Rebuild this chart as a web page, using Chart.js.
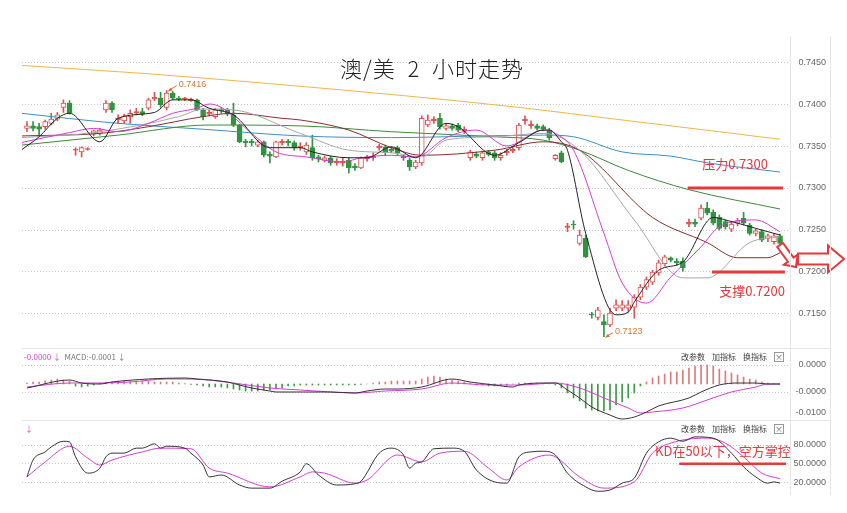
<!DOCTYPE html>
<html>
<head>
<meta charset="utf-8">
<script src="https://cdn.jsdelivr.net/npm/chart.js@4.4.0/dist/chart.umd.min.js"></script>
<style>
  body { margin: 0; background: #fff; width: 847px; height: 513px; overflow: hidden; position: relative; font-family: "Noto Sans CJK SC", "Noto Sans", sans-serif; }
  canvas { position: absolute; left: 0; }
  .rule { position: absolute; background: #e6e6e6; }
  .title { position: absolute; left: 290px; width: 284px; top: 53px; text-align: center; font-size: 22px; line-height: 28px; color: #222; font-weight: 300; letter-spacing: 1px; white-space: pre; }
  .hdr { position: absolute; font-size: 8px; line-height: 10px; white-space: nowrap; }
  .tools { position: absolute; left: 681px; font-size: 8px; line-height: 10px; color: #444; white-space: nowrap; }
  .tools span { display: inline-block; margin-right: 7px; }
  .xbox { display: inline-block; width: 8px; height: 8px; border: 1px solid #999; font-size: 8px; line-height: 8px; text-align: center; color: #666; vertical-align: top; }
</style>
</head>
<body>
<canvas id="mainChart" width="847" height="348" style="top:0"></canvas>
<canvas id="macdChart" width="847" height="72" style="top:348px"></canvas>
<canvas id="kdChart" width="847" height="75" style="top:420px"></canvas>

<div class="rule" style="left:22px;top:348px;width:808px;height:1px"></div>
<div class="rule" style="left:22px;top:420px;width:808px;height:1px"></div>
<div class="rule" style="left:790px;top:36px;width:1px;height:459px"></div>
<div class="rule" style="left:830px;top:36px;width:1px;height:459px"></div>

<div class="title">澳/美  2  小时走势</div>

<div class="hdr" style="left:24px;top:352px"><span style="color:#d23cd2">-0.0000 ↓</span>&nbsp;&nbsp;<span style="color:#777">MACD:-0.0001 ↓</span></div>
<div class="tools" style="top:352px"><span>改参数</span><span>加指标</span><span>换指标</span><span class="xbox">×</span></div>
<div class="hdr" style="left:25px;top:424px;color:#d23cd2">↓</div>
<div class="tools" style="top:424px"><span>改参数</span><span>加指标</span><span>换指标</span><span class="xbox">×</span></div>

<script>
// 2-hour AUD/USD candles, index 0..124
const opens = [0.7371,0.7374,0.7373,0.7373,0.7377,0.7382,0.7396,0.7401,0.7345,0.7343,
  0.7346,0.7364,0.7365,0.7393,0.7401,0.7381,0.7380,0.7385,0.7389,0.7391,
  0.7395,0.7406,0.7407,0.7396,0.7413,0.7407,0.7406,0.7404,0.7405,0.7393,
  0.7388,0.7385,0.7394,0.7393,0.7387,0.7375,0.7356,0.7356,0.7351,0.7355,
  0.7340,0.7337,0.7354,0.7356,0.7354,0.7348,0.7343,0.7348,0.7337,0.7333,
  0.7336,0.7330,0.7330,0.7333,0.7326,0.7324,0.7335,0.7336,0.7348,0.7349,
  0.7346,0.7348,0.7338,0.7333,0.7325,0.7330,0.7375,0.7380,0.7383,0.7371,
  0.7374,0.7375,0.7368,0.7336,0.7340,0.7336,0.7343,0.7342,0.7336,0.7342,
  0.7344,0.7348,0.7380,0.7374,0.7374,0.7373,0.7369,0.7335,0.7342,0.7253,
  0.7257,0.7234,0.7240,0.7150,0.7146,0.7141,0.7137,0.7157,0.7157,0.7157,
  0.7158,0.7170,0.7182,0.7188,0.7199,0.7210,0.7217,0.7213,0.7213,0.7257,
  0.7259,0.7264,0.7276,0.7271,0.7265,0.7260,0.7251,0.7258,0.7264,0.7256,
  0.7246,0.7248,0.7240,0.7236,0.7243];
const closes = [0.7374,0.7371,0.7370,0.7379,0.7382,0.7387,0.7401,0.7389,0.7346,0.7348,
  0.7347,0.7368,0.7369,0.7401,0.7393,0.7383,0.7386,0.7389,0.7391,0.7388,
  0.7405,0.7408,0.7399,0.7413,0.7407,0.7406,0.7407,0.7406,0.7393,0.7385,
  0.7390,0.7393,0.7392,0.7388,0.7375,0.7355,0.7354,0.7354,0.7355,0.7339,
  0.7338,0.7355,0.7356,0.7354,0.7348,0.7350,0.7351,0.7336,0.7335,0.7336,
  0.7330,0.7332,0.7332,0.7324,0.7324,0.7336,0.7337,0.7338,0.7350,0.7342,
  0.7344,0.7342,0.7336,0.7325,0.7331,0.7383,0.7381,0.7382,0.7373,0.7374,
  0.7371,0.7369,0.7370,0.7343,0.7338,0.7342,0.7340,0.7336,0.7339,0.7344,
  0.7346,0.7375,0.7382,0.7376,0.7371,0.7370,0.7360,0.7339,0.7331,0.7255,
  0.7256,0.7244,0.7218,0.7149,0.7155,0.7137,0.7151,0.7161,0.7161,0.7161,
  0.7170,0.7182,0.7191,0.7200,0.7211,0.7218,0.7214,0.7211,0.7205,0.7259,
  0.7257,0.7276,0.7270,0.7258,0.7252,0.7254,0.7257,0.7261,0.7258,0.7246,
  0.7249,0.7238,0.7243,0.7243,0.7234];
const highs = [0.7379,0.7379,0.7377,0.7381,0.7389,0.7390,0.7405,0.7404,0.7348,0.7349,
  0.7348,0.7369,0.7371,0.7404,0.7403,0.7387,0.7388,0.7393,0.7395,0.7395,
  0.7407,0.7414,0.7414,0.7416,0.7415,0.7409,0.7408,0.7407,0.7406,0.7395,
  0.7393,0.7395,0.7396,0.7395,0.7401,0.7376,0.7358,0.7358,0.7357,0.7356,
  0.7343,0.7356,0.7358,0.7358,0.7356,0.7354,0.7354,0.7363,0.7339,0.7338,
  0.7338,0.7335,0.7336,0.7336,0.7329,0.7337,0.7339,0.7342,0.7352,0.7351,
  0.7349,0.7350,0.7340,0.7336,0.7333,0.7386,0.7387,0.7385,0.7389,0.7376,
  0.7376,0.7377,0.7373,0.7345,0.7343,0.7344,0.7345,0.7344,0.7342,0.7346,
  0.7349,0.7377,0.7386,0.7380,0.7376,0.7375,0.7371,0.7340,0.7344,0.7258,
  0.7261,0.7250,0.7244,0.7152,0.7158,0.7149,0.7157,0.7167,0.7166,0.7166,
  0.7173,0.7185,0.7194,0.7202,0.7214,0.7220,0.7218,0.7216,0.7217,0.7263,
  0.7263,0.7280,0.7283,0.7274,0.7268,0.7262,0.7260,0.7264,0.7271,0.7258,
  0.7251,0.7250,0.7245,0.7245,0.7245];
const lows = [0.7367,0.7368,0.7362,0.7370,0.7375,0.7380,0.7390,0.7388,0.7339,0.7337,
  0.7345,0.7362,0.7363,0.7390,0.7390,0.7377,0.7377,0.7377,0.7387,0.7386,
  0.7393,0.7404,0.7396,0.7393,0.7405,0.7404,0.7404,0.7403,0.7392,0.7381,
  0.7386,0.7383,0.7389,0.7386,0.7373,0.7354,0.7349,0.7350,0.7349,0.7337,
  0.7330,0.7336,0.7351,0.7350,0.7345,0.7345,0.7340,0.7333,0.7331,0.7331,
  0.7327,0.7327,0.7326,0.7318,0.7321,0.7323,0.7332,0.7333,0.7345,0.7339,
  0.7342,0.7339,0.7333,0.7321,0.7323,0.7327,0.7373,0.7377,0.7370,0.7369,
  0.7369,0.7367,0.7365,0.7333,0.7336,0.7333,0.7338,0.7333,0.7333,0.7339,
  0.7342,0.7345,0.7376,0.7371,0.7369,0.7368,0.7357,0.7333,0.7330,0.7248,
  0.7251,0.7232,0.7217,0.7145,0.7143,0.7123,0.7135,0.7154,0.7154,0.7153,
  0.7145,0.7167,0.7179,0.7185,0.7196,0.7207,0.7212,0.7208,0.7201,0.7254,
  0.7254,0.7262,0.7268,0.7256,0.7250,0.7251,0.7248,0.7255,0.7256,0.7244,
  0.7243,0.7236,0.7236,0.7233,0.7231];

// moving averages as [candle index, price]
const maBlack = [[-1,0.7345],[2,0.7361],[5,0.7383],[7,0.7389],[12,0.7355],[15,0.7383],[21,0.7390],[24,0.7405],[27,0.7405],[30,0.7395],[34,0.7387],[40,0.7348],[45,0.7348],[47,0.7343],[53,0.7336],[56,0.7336],[60,0.7349],[64,0.7336],[69,0.7377],[71,0.7373],[77,0.7339],[81,0.7354],[85,0.7369],[86,0.7369],[88,0.7355],[89,0.7345],[92,0.7246],[97,0.7149],[99,0.7152],[100,0.7164],[104,0.7202],[108,0.7212],[113,0.7265],[115,0.7262],[120,0.7252],[124,0.7244]];
const maMagenta = [[-1,0.7354],[7,0.7366],[11,0.7371],[15,0.7367],[20,0.7377],[24,0.7389],[28,0.7395],[30,0.7400],[32,0.7396],[37,0.7365],[41,0.7343],[46,0.7337],[52,0.7331],[55,0.7336],[60,0.7339],[64,0.7337],[69,0.7360],[74,0.7369],[79,0.7350],[85,0.7369],[87,0.7365],[90,0.7345],[95,0.7246],[98,0.7187],[102,0.7163],[106,0.7194],[111,0.7230],[114,0.7254],[120,0.7262],[124,0.7248]];
const maGrey = [[-1,0.7360],[11,0.7366],[25,0.7385],[29,0.7394],[34,0.7393],[45,0.7365],[53,0.7345],[60,0.7342],[65,0.7337],[69,0.7357],[77,0.7361],[85,0.7365],[91,0.7345],[100,0.7262],[108,0.7193],[112,0.7193],[119,0.7235],[124,0.7242]];
const maBrown = [[-1,0.7362],[12,0.7365],[20,0.7373],[29,0.7385],[34,0.7389],[42,0.7383],[45,0.7381],[53,0.7369],[60,0.7348],[65,0.7339],[77,0.7345],[85,0.7355],[91,0.7345],[103,0.7265],[112,0.7235],[117,0.7217],[122,0.7217],[124,0.7223]];
const maGreen = [[-1,0.7351],[15,0.7363],[30,0.7375],[45,0.7374],[60,0.7367],[77,0.7361],[85,0.7357],[91,0.7345],[99,0.7321],[109,0.7298],[124,0.7275]];
const maBlue = [[-1,0.7389],[15,0.7377],[29,0.7370],[45,0.7362],[60,0.7360],[75,0.7362],[85,0.7363],[90,0.7361],[98,0.7343],[106,0.7338],[112,0.7330],[124,0.7319]];
const maOrange = [[-1,0.7446],[20,0.7436],[42,0.7423],[62,0.7410],[81,0.7396],[98,0.7381],[114,0.7367],[124,0.7358]];

// drawn resistance / support levels [price, from index, to index]
const levels = [[0.7300, 108.8, 124.5], [0.7200, 112.8, 124.8]];
const levelText = ['压力0.7300', '支撑0.7200'];

const priceTicks = [0.7450, 0.7400, 0.7350, 0.7300, 0.7250, 0.7200, 0.7150];

// MACD panel (plotted in panel units)
const macdHist = [0.1,0.2,0.2,0.3,0.4,0.5,0.4,0.3,-0.2,-0.3,
  -0.2,-0.1,0.1,0.2,0.2,0.3,0.3,0.3,0.3,0.3,
  0.3,0.2,0.2,0.2,0.2,0.1,0.05,-0.05,-0.1,-0.2,
  -0.3,-0.3,-0.3,-0.4,-0.5,-0.6,-0.7,-0.7,-0.7,-0.6,
  -0.6,-0.5,-0.4,-0.2,-0.2,-0.1,-0.1,-0.1,-0.1,-0.1,
  -0.1,-0.1,-0.1,-0.1,-0.1,-0.05,0,0.1,0.2,0.2,
  0.3,0.3,0.3,0.3,0.3,0.5,0.7,0.8,0.7,0.5,
  0.4,0.3,0.2,0.1,-0.1,-0.1,-0.2,-0.2,-0.1,-0.1,
  0,0.1,0.1,0.1,0.1,0.05,0,-0.1,-0.4,-0.9,
  -1.4,-1.7,-2.4,-2.6,-2.7,-2.7,-2.6,-2.1,-1.8,-1.4,
  -0.9,-0.2,0.2,0.6,0.8,1.0,1.2,1.2,1.4,1.6,
  1.8,1.9,1.9,1.8,1.5,1.3,1.1,0.9,0.7,0.5,
  0.4,0.2,0.1,0.05,0];
const macdDif = [[0,-0.4],[7,0.4],[9,0.1],[12,0],[14,0.2],[20,0.5],[26,0.6],[28,0.5],[33,0.2],[35,-0.1],[37,-0.4],[40,-0.7],[41,-0.8],[45,-0.8],[50,-0.8],[54,-0.9],[56,-0.7],[59,-0.5],[61,-0.5],[65,-0.3],[70,0.5],[73,0.2],[77,-0.1],[80,-0.3],[81,-0.1],[85,0.1],[87,0.1],[89,-0.6],[91,-1.4],[93,-2.3],[96,-3.1],[98,-3.5],[100,-3.3],[102,-2.8],[104,-2.2],[109,-1.4],[111,-0.8],[114,-0.1],[117,0.1],[120,0.1],[122,0],[124,0]];
const macdDea = [[0,-0.3],[7,0.1],[12,0.1],[17,0.2],[23,0.5],[27,0.5],[34,0.1],[40,-0.4],[45,-0.6],[50,-0.8],[54,-0.9],[59,-0.7],[65,-0.5],[70,0.1],[76,-0.1],[81,-0.1],[87,0.1],[91,-0.4],[95,-1.4],[99,-2.4],[101,-2.9],[103,-2.8],[108,-2.4],[112,-1.6],[116,-0.8],[120,-0.3],[122,0],[124,0]];
const macdTickPos = [1.9, -0.8, -2.9];
const macdTickText = ['0.0000', '-0.0000', '-0.0100'];

// KD panel
const kdK = [[0,29],[1,56],[3,69],[4,77],[6,86],[7,85],[8,61],[10,35],[12,43],[13,61],[14,67],[16,67],[18,75],[19,75],[21,82],[22,75],[23,78],[26,75],[27,67],[29,48],[30,29],[32,32],[35,16],[37,11],[40,11],[42,22],[45,37],[46,50],[48,32],[51,16],[54,18],[55,22],[58,67],[60,75],[62,64],[63,43],[64,51],[65,53],[67,74],[70,75],[72,70],[74,40],[77,21],[79,19],[81,61],[83,69],[85,70],[87,64],[89,35],[92,13],[94,6],[96,8],[98,19],[100,27],[102,67],[104,85],[106,91],[108,86],[110,93],[113,91],[116,67],[118,45],[120,29],[122,19],[123,21],[124,19]];
const kdD = [[0,29],[3,53],[7,78],[10,59],[12,48],[14,56],[19,69],[22,75],[27,74],[30,43],[33,35],[40,13],[45,29],[47,37],[49,35],[54,19],[56,24],[61,64],[65,53],[68,67],[72,70],[76,43],[79,24],[81,45],[86,64],[91,29],[95,11],[100,21],[103,67],[106,83],[112,91],[115,83],[118,61],[121,35],[124,26]];
const kdTicks = [80, 50, 20];
const kdLevel = [50, 107.4, 125.0];
const kdText = 'KD在50以下，空方掌控';

const RED = '#e05252', GREEN = '#2f9440', NOTE = '#e5393b';
const X_MIN = -0.82, X_MAX = 125.64;

function pairLine(pairs, color, width) {
  return {
    type: 'line',
    data: pairs.map(p => ({ x: p[0], y: p[1] })),
    borderColor: color,
    borderWidth: width || 1,
    pointRadius: 0,
    cubicInterpolationMode: 'monotone',
    fill: false
  };
}

function yAxis(min, max, vals, text, pad) {
  return {
    position: 'right', min: min, max: max,
    afterBuildTicks(s) { s.ticks = vals.map(v => ({ value: v })); },
    afterFit(s) { s.width = 36; s.paddingTop = 0; s.paddingBottom = 0; },
    border: { display: false, dash: [1, 2] },
    grid: { color: ctx => (text[ctx.index] === '-0.0100' ? 'rgba(0,0,0,0)' : '#c4c4c4'), drawTicks: false },
    ticks: {
      color: '#666', padding: pad, crossAlign: 'far',
      font: { size: 9, family: 'Liberation Sans' },
      callback: (v, i) => text[i]
    }
  };
}

function baseOptions(top, y) {
  return {
    responsive: false,
    animation: false,
    layout: { padding: { left: 22, right: 21, top: top, bottom: 0 } },
    plugins: { legend: { display: false }, tooltip: { enabled: false } },
    scales: {
      x: { type: 'linear', min: X_MIN, max: X_MAX, display: false, offset: false },
      y: y
    }
  };
}

function drawArrow(ctx, x0, y0, x1, y1, sw, hw, hl) {
  const ang = Math.atan2(y1 - y0, x1 - x0), len = Math.hypot(x1 - x0, y1 - y0);
  ctx.save();
  ctx.translate(x0, y0);
  ctx.rotate(ang);
  ctx.beginPath();
  ctx.moveTo(0, -sw / 2);
  ctx.lineTo(len - hl, -sw / 2);
  ctx.lineTo(len - hl, -hw / 2);
  ctx.lineTo(len, 0);
  ctx.lineTo(len - hl, hw / 2);
  ctx.lineTo(len - hl, sw / 2);
  ctx.lineTo(0, sw / 2);
  ctx.closePath();
  ctx.fillStyle = '#fff';
  ctx.fill();
  ctx.lineWidth = 2;
  ctx.strokeStyle = NOTE;
  ctx.stroke();
  ctx.restore();
}

const idx = opens.map((_, i) => i);
const isUp = i => closes[i] >= opens[i];

// price notes, level labels, hand-drawn arrows
const mainNotes = {
  id: 'mainNotes',
  afterDatasetsDraw(chart) {
    const { ctx, chartArea } = chart;
    const x = chart.scales.x, y = chart.scales.y;
    ctx.save();
    ctx.font = '9px "Liberation Sans"';
    ctx.textBaseline = 'middle';
    ctx.strokeStyle = ctx.fillStyle = '#d0783a';
    ctx.lineWidth = 1;
    const hi = highs.indexOf(Math.max(...highs));
    let px = x.getPixelForValue(hi), py = y.getPixelForValue(highs[hi]);
    ctx.beginPath(); ctx.moveTo(px + 2, py); ctx.lineTo(px + 10, py - 5); ctx.stroke();
    ctx.beginPath(); ctx.moveTo(px + 1, py + 1); ctx.lineTo(px + 6, py); ctx.lineTo(px + 4, py - 3); ctx.closePath(); ctx.fill();
    ctx.fillText(highs[hi].toFixed(4), px + 12, py - 6);
    const lo = lows.indexOf(Math.min(...lows));
    px = x.getPixelForValue(lo); py = y.getPixelForValue(lows[lo]);
    ctx.beginPath(); ctx.moveTo(px + 2, py); ctx.lineTo(px + 9, py - 4); ctx.stroke();
    ctx.beginPath(); ctx.moveTo(px + 1, py + 1); ctx.lineTo(px + 6, py); ctx.lineTo(px + 4, py - 3); ctx.closePath(); ctx.fill();
    ctx.fillText(lows[lo].toFixed(4), px + 11, py - 5);

    ctx.font = '13px "Noto Sans CJK SC"';
    ctx.fillStyle = NOTE;
    ctx.textAlign = 'center';
    ctx.textBaseline = 'alphabetic';
    ctx.fillText(levelText[0], x.getPixelForValue(116.6), y.getPixelForValue(levels[0][0]) - 19);
    ctx.fillText(levelText[1], x.getPixelForValue(119.4), y.getPixelForValue(levels[1][0]) + 24);

    const lx = x.getPixelForValue(opens.length - 1);
    const ly = y.getPixelForValue(lows[lows.length - 1]);
    drawArrow(ctx, lx, ly - 1, lx + 16, ly + 21, 7, 17, 9);
    drawArrow(ctx, chartArea.right + 8, ly + 13, chartArea.right + 54, ly + 13, 11, 27, 16);
    ctx.restore();
  }
};

new Chart(document.getElementById('mainChart'), {
  type: 'line',
  data: {
    datasets: [
      ...levels.map(l => pairLine([[l[1], l[0]], [l[2], l[0]]], NOTE, 3)),
      pairLine(maBlack, '#222'),
      pairLine(maMagenta, '#d63cd6'),
      pairLine(maGrey, '#a8a8a8'),
      pairLine(maBrown, '#8a2d2d'),
      pairLine(maGreen, '#3c8a3c'),
      pairLine(maBlue, '#3d8fc6'),
      pairLine(maOrange, '#f0b54a'),
      {
        type: 'bar', grouped: false, barThickness: 5,
        data: idx.map(i => ({ x: i, y: [Math.min(opens[i], closes[i]), Math.max(opens[i], closes[i])] })),
        backgroundColor: c => {
          const i = c.dataIndex;
          if (i === undefined) return '#fff';
          if (!isUp(i)) return GREEN;
          return Math.abs(closes[i] - opens[i]) < 0.00025 ? RED : '#fff';
        },
        borderColor: c => (c.dataIndex !== undefined && !isUp(c.dataIndex) ? GREEN : RED),
        borderWidth: 1, borderSkipped: false
      },
      {
        type: 'bar', grouped: false, barThickness: 1,
        data: idx.map(i => ({ x: i, y: [lows[i], highs[i]] })),
        backgroundColor: c => (c.dataIndex !== undefined && !isUp(c.dataIndex) ? GREEN : RED),
        borderWidth: 0
      }
    ]
  },
  options: baseOptions(36, yAxis(0.71095, 0.7481, priceTicks, priceTicks.map(v => v.toFixed(4)), 8)),
  plugins: [mainNotes]
});

new Chart(document.getElementById('macdChart'), {
  type: 'line',
  data: {
    datasets: [
      pairLine(macdDif, '#333'),
      pairLine(macdDea, '#d63cd6'),
      {
        type: 'bar', grouped: false, barThickness: 1,
        data: idx.map(i => ({ x: i, y: macdHist[i] })),
        backgroundColor: c => (c.dataIndex !== undefined && macdHist[c.dataIndex] < 0 ? '#3f9a45' : '#e07a7a'),
        borderWidth: 0
      }
    ]
  },
  options: baseOptions(0, yAxis(-3.6, 3.6, macdTickPos, macdTickText, 3))
});

const kdNotes = {
  id: 'kdNotes',
  afterDatasetsDraw(chart) {
    const { ctx } = chart;
    const x = chart.scales.x, y = chart.scales.y;
    ctx.save();
    ctx.font = '13px "Noto Sans CJK SC"';
    ctx.fillStyle = NOTE;
    ctx.textAlign = 'center';
    ctx.fillText(kdText, x.getPixelForValue(114.6), y.getPixelForValue(kdLevel[0]) - 8);
    ctx.restore();
  }
};

new Chart(document.getElementById('kdChart'), {
  type: 'line',
  data: {
    datasets: [
      pairLine([[kdLevel[1], kdLevel[0]], [kdLevel[2], kdLevel[0]]], NOTE, 2.5),
      pairLine(kdK, '#333'),
      pairLine(kdD, '#d63cd6')
    ]
  },
  options: baseOptions(0, yAxis(0, 120, kdTicks, kdTicks.map(v => v.toFixed(4)), 3.5)),
  plugins: [kdNotes]
});
</script>
</body>
</html>
